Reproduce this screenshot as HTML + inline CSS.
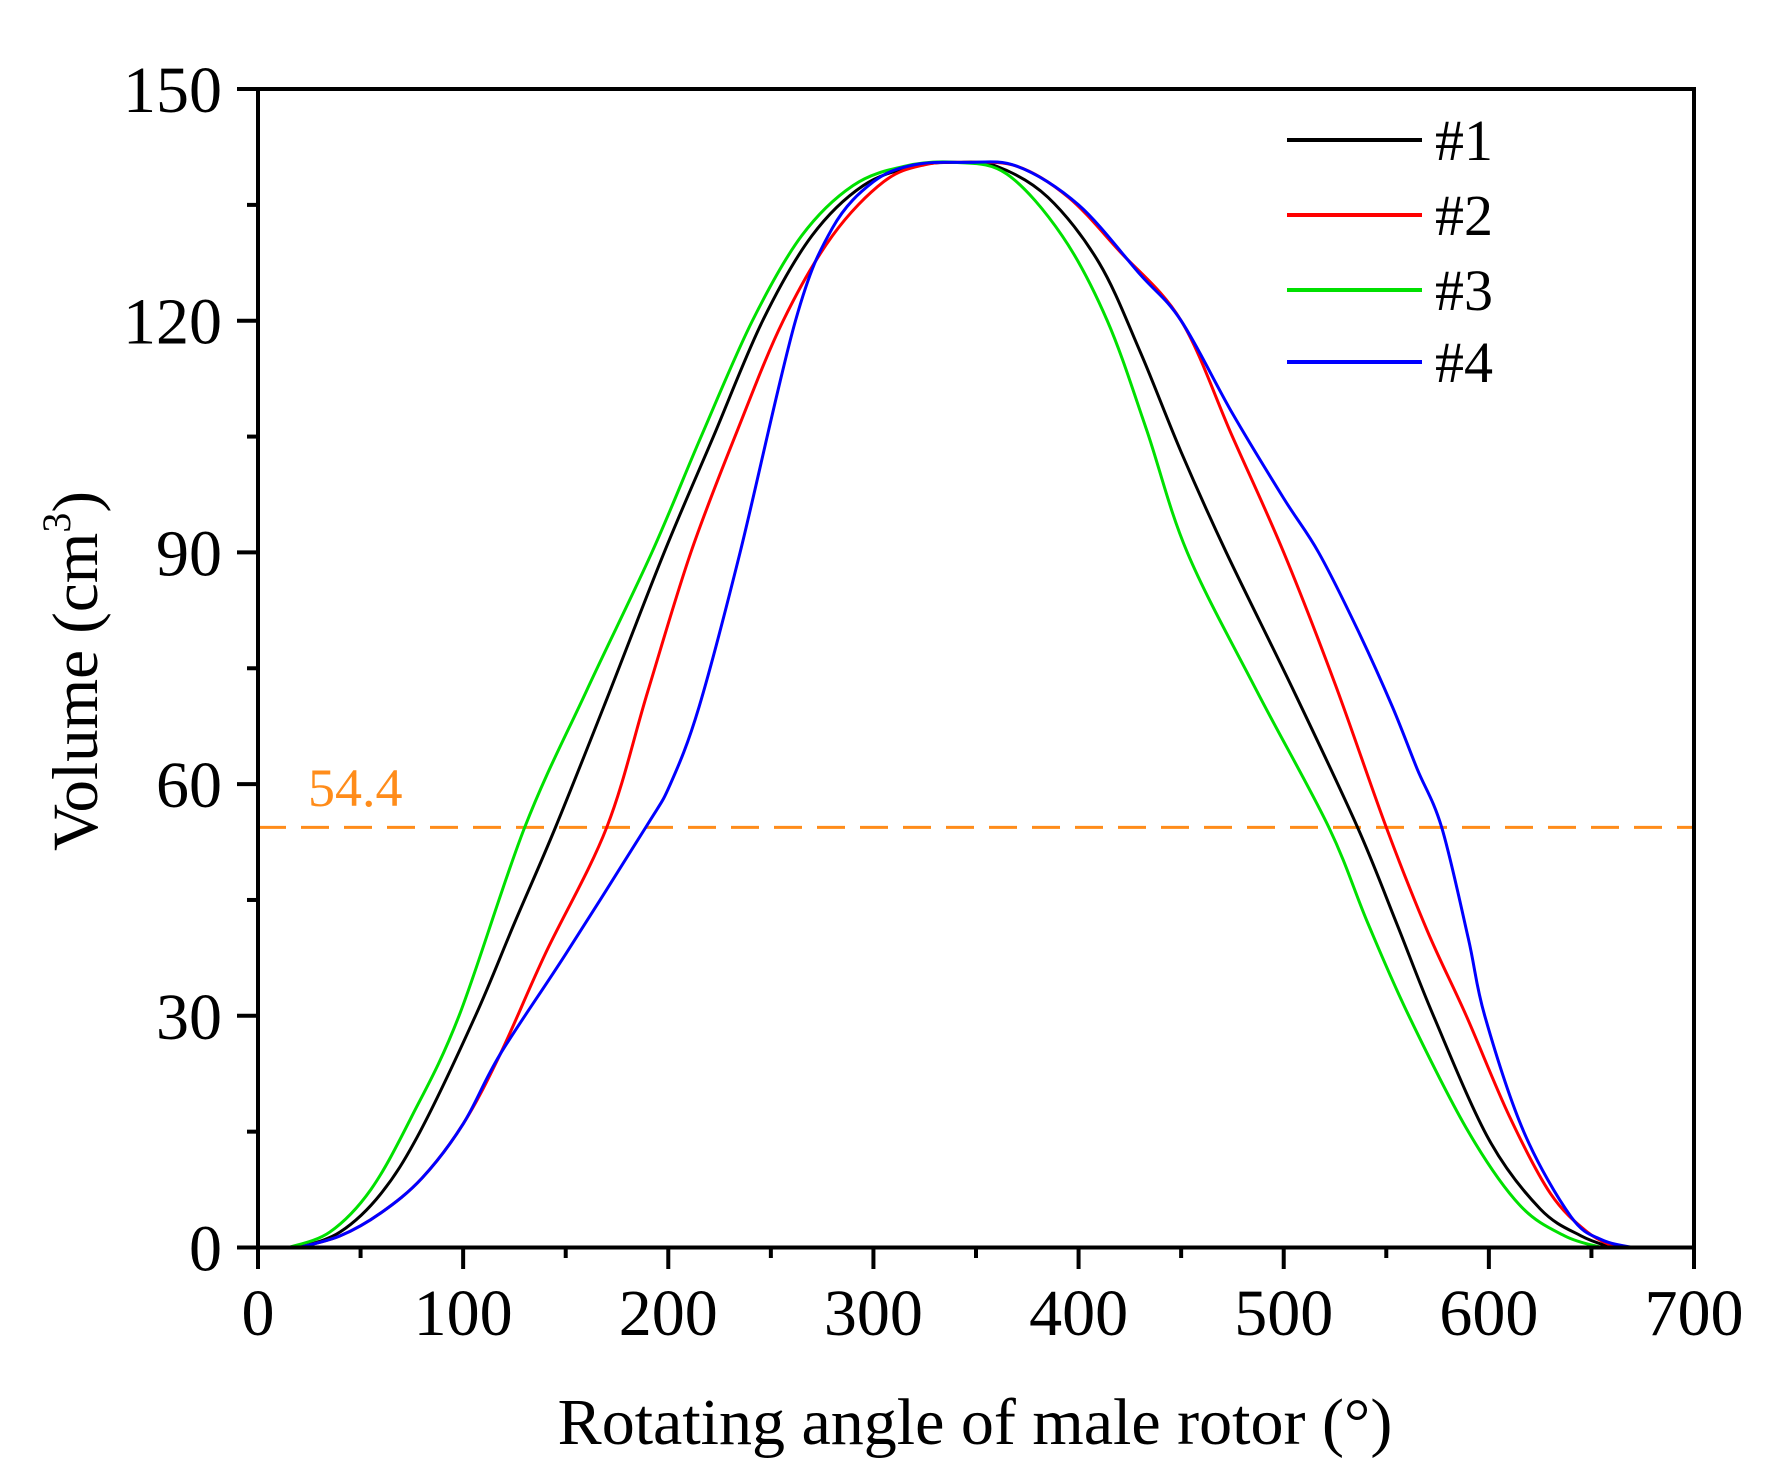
<!DOCTYPE html>
<html><head><meta charset="utf-8"><style>html,body{margin:0;padding:0;background:#fff}svg{display:block}</style></head>
<body>
<svg id="s" width="1783" height="1481" viewBox="0 0 1783 1481" xmlns="http://www.w3.org/2000/svg" font-family="Liberation Serif, serif">
<g id="ticks" stroke="#000" stroke-width="4"></g>
<g id="labels" font-size="66" fill="#000"></g>
<line x1="258" y1="827.4" x2="1694" y2="827.4" stroke="#ff8c1a" stroke-width="3" stroke-dasharray="28,15"/>
<text x="308" y="806" font-size="54" fill="#ff8c1a">54.4</text>
<g id="curves" fill="none" stroke-width="3" stroke-linejoin="round"></g>
<rect x="258" y="89" width="1436" height="1158.5" fill="none" stroke="#000" stroke-width="4"/>
<g stroke-width="4">
<line x1="1287" y1="140" x2="1422" y2="140" stroke="#000"/>
<line x1="1287" y1="215" x2="1422" y2="215" stroke="#ff0000"/>
<line x1="1287" y1="290" x2="1422" y2="290" stroke="#00e000"/>
<line x1="1287" y1="362" x2="1422" y2="362" stroke="#0000ff"/>
</g>
<g font-size="58" fill="#000">
<text x="1435" y="160">#1</text>
<text x="1435" y="235">#2</text>
<text x="1435" y="310">#3</text>
<text x="1435" y="382">#4</text>
</g>
<text x="975" y="1444" font-size="66" text-anchor="middle">Rotating angle of male rotor (°)</text>
<text transform="translate(97,671) rotate(-90)" font-size="65" text-anchor="middle">Volume (cm<tspan font-size="40" dy="-27">3</tspan><tspan dy="27">)</tspan></text>
</svg>
<script>
var NS="http://www.w3.org/2000/svg";
function X(v){return 258+v*1436/700}
function Y(v){return 1247.5-v*7.723}
function el(t,a,p){var e=document.createElementNS(NS,t);for(var k in a)e.setAttribute(k,a[k]);p.appendChild(e);return e}
var tk=document.getElementById('ticks'),lb=document.getElementById('labels');
for(var v=0;v<=700;v+=50){var x=X(v),maj=v%100==0;el('line',{x1:x,y1:1247,x2:x,y2:maj?1269:1258},tk);
if(maj){var t=el('text',{x:x,y:1335,'text-anchor':'middle'},lb);t.textContent=v;}}
for(var v=0;v<=150;v+=15){var y=Y(v),maj=v%30==0;el('line',{x1:maj?237:247,y1:y,x2:258,y2:y},tk);
if(maj){var t=el('text',{x:222,y:y+23,'text-anchor':'end'},lb);t.textContent=v;}}
var D={
"#000":[[20,0],[40,2],[60,7],[79,15],[106,30],[125,42],[145,54.4],[170,71],[198,90],[222,105],[246,120],[270,131],[295,137.5],[320,140],[340,140.5],[360,140],[385,136],[410,127.5],[430,116],[450,103],[472,90],[505,72],[536,54.4],[555,42],[573,30],[600,14],[625,5],[645,1.5],[660,0]],
"#ff0000":[[20,0],[40,1.5],[60,4.5],[80,9],[100,16],[118,25],[140,38],[170,54.4],[190,72],[211,90],[234,106],[256,120],[280,131],[305,138],[325,140.2],[345,140.5],[370,140],[395,136],[420,129],[450,120],[475,105],[500,90],[525,73],[550,54.4],[570,41],[589,30],[610,17],[630,7],[648,2],[662,0]],
"#00e000":[[15,0],[35,2],[55,7.5],[75,17],[98,30],[130,54.4],[160,72],[192,90],[216,105],[241,120],[265,131],[290,137.5],[315,140],[340,140.5],[365,139],[392,131],[414,120],[433,106],[453,90],[487,72],[522,54.4],[541,42],[561,30],[590,15],[615,5.5],[637,1.5],[655,0]],
"#0000ff":[[20,0],[40,1.5],[60,4.5],[80,9],[100,16],[118,25],[150,38],[189,54.4],[201,60],[215,70],[235,90],[262,120],[280,132],[300,138],[320,140.2],[345,140.5],[370,140],[400,135],[430,126],[450,120],[475,108],[500,97],[517,90],[536,80],[553,70],[565,62],[577,54.4],[590,40],[598,30],[617,15],[640,4],[655,1],[670,0]]
};
var cg=document.getElementById('curves');
for(var c in D){var p=D[c].map(function(q){return [X(q[0]),Y(q[1])]});
var d="M"+p[0][0]+","+p[0][1];
for(var i=0;i<p.length-1;i++){var p0=p[i-1]||p[i],p1=p[i],p2=p[i+1],p3=p[i+2]||p2;
d+=" C"+(p1[0]+(p2[0]-p0[0])/6)+","+(p1[1]+(p2[1]-p0[1])/6)+" "+(p2[0]-(p3[0]-p1[0])/6)+","+(p2[1]-(p3[1]-p1[1])/6)+" "+p2[0]+","+p2[1];}
el('path',{d:d,stroke:c},cg);}
</script>
</body></html>
